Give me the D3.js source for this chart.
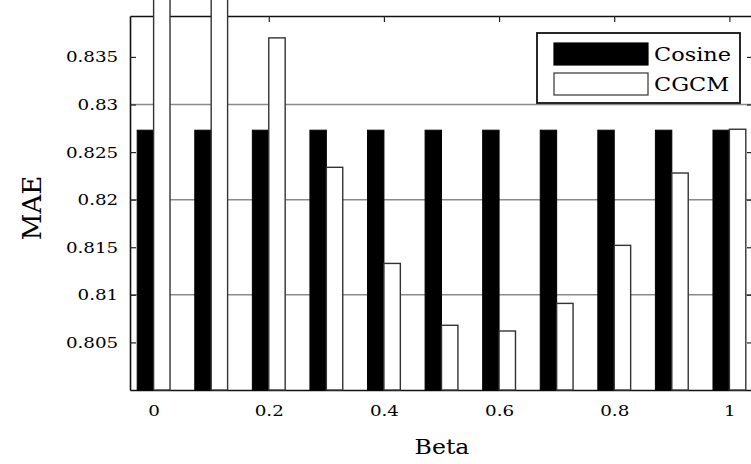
<!DOCTYPE html>
<html>
<head>
<meta charset="utf-8">
<script src="https://cdn.jsdelivr.net/npm/d3@7"></script>
<style>
body { margin: 0; background: #fff; }
text { font-family: "DejaVu Serif", serif; fill: #000; }
</style>
</head>
<body>
<svg></svg>
<script>
// ---------------- data ----------------
const betas = [0, 0.1, 0.2, 0.3, 0.4, 0.5, 0.6, 0.7, 0.8, 0.9, 1];
const cosine = [0.8273, 0.8273, 0.8273, 0.8273, 0.8273, 0.8273, 0.8273, 0.8273, 0.8273, 0.8273, 0.8273];
const cgcm = [0.845, 0.845, 0.837, 0.8234, 0.8133, 0.8068, 0.8062, 0.8091, 0.8152, 0.8228, 0.8274];
const yTicks = [0.805, 0.81, 0.815, 0.82, 0.825, 0.83, 0.835];
const yTickLabels = ["0.805", "0.81", "0.815", "0.82", "0.825", "0.83", "0.835"];
const gridVals = [0.81, 0.82, 0.83];
const xTicks = [0, 0.2, 0.4, 0.6, 0.8, 1];
const xTickLabels = ["0", "0.2", "0.4", "0.6", "0.8", "1"];
const seriesNames = ["Cosine", "CGCM"];

// ---------------- layout ----------------
var W = 751, H = 464;
var pLeft = 130, pRight = 753, pTop = 16, pBottom = 390;
var barW = 0.0285; // in beta units
var stretch = "scale(1.18,1)";

var svg = d3.select("svg").attr("width", W).attr("height", H);

var x = d3.scaleLinear().domain([-0.041, 1.041]).range([pLeft, pRight]);
var y = d3.scaleLinear().domain([0.8, 0.8393]).range([pBottom, pTop]);

// grid
svg.append("g").selectAll("line")
    .data(gridVals).enter().append("line")
    .attr("x1", pLeft).attr("x2", pRight)
    .attr("y1", d => y(d)).attr("y2", d => y(d))
    .attr("stroke", "#8a8a8a").attr("stroke-width", 1.5);

// axes
svg.append("g").attr("transform", "translate(" + pLeft + ",0)")
    .call(d3.axisLeft(y).tickValues(yTicks).tickSize(-6).tickSizeOuter(0).tickPadding(10)
        .tickFormat((d, i) => yTickLabels[i]));

svg.append("g").attr("transform", "translate(0," + pBottom + ")")
    .call(d3.axisBottom(x).tickValues(xTicks).tickSize(-6).tickSizeOuter(0).tickPadding(15)
        .tickFormat((d, i) => xTickLabels[i]));

svg.append("g").attr("transform", "translate(0," + pTop + ")")
    .call(d3.axisTop(x).tickValues(xTicks).tickSize(-6).tickSizeOuter(0).tickFormat(""));
svg.append("g").attr("transform", "translate(" + pRight + ",0)")
    .call(d3.axisRight(y).tickValues(yTicks).tickSize(-6).tickSizeOuter(0).tickFormat(""));

svg.selectAll(".domain").attr("stroke", "#111").attr("stroke-width", 1.6);
svg.selectAll(".tick line").attr("stroke", "#222").attr("stroke-width", 1.2);
svg.selectAll(".tick text")
    .attr("fill", "#000")
    .attr("transform", stretch)
    .style("font-family", "DejaVu Serif, serif")
    .style("font-size", "15.5px");

// bars
var bw = x(barW) - x(0);
svg.append("g").selectAll("rect")
    .data(betas).enter().append("rect")
    .attr("x", d => x(d) - bw)
    .attr("y", (d, i) => y(cosine[i]))
    .attr("width", bw)
    .attr("height", (d, i) => pBottom - y(cosine[i]))
    .attr("fill", "#000").attr("stroke", "#000").attr("stroke-width", 1);

svg.append("g").selectAll("rect")
    .data(betas).enter().append("rect")
    .attr("x", d => x(d))
    .attr("y", (d, i) => y(cgcm[i]))
    .attr("width", bw)
    .attr("height", (d, i) => pBottom - y(cgcm[i]))
    .attr("fill", "#fff").attr("stroke", "#333").attr("stroke-width", 1.4);

// legend
var lg = svg.append("g").attr("transform", "translate(537,33)");
lg.append("rect").attr("width", 203).attr("height", 70)
    .attr("fill", "#fff").attr("stroke", "#111").attr("stroke-width", 1.8);
lg.selectAll("rect.sw").data(seriesNames).enter().append("rect")
    .attr("class", "sw")
    .attr("x", 17).attr("y", (d, i) => 10 + i * 30)
    .attr("width", 94).attr("height", 22)
    .attr("fill", (d, i) => i === 0 ? "#000" : "#fff")
    .attr("stroke", (d, i) => i === 0 ? "#000" : "#333").attr("stroke-width", 1.2);
lg.selectAll("text").data(seriesNames).enter().append("text")
    .attr("transform", (d, i) => "translate(117," + (28 + i * 30) + ") " + stretch)
    .style("font-size", "19px")
    .text(d => d);

// axis titles
svg.append("text")
    .attr("transform", "translate(442,454) " + stretch)
    .attr("text-anchor", "middle")
    .style("font-size", "20px")
    .text("Beta");
svg.append("text")
    .attr("transform", "translate(41,208) rotate(-90)")
    .attr("text-anchor", "middle")
    .style("font-size", "26px")
    .text("MAE");
</script>
</body>
</html>
